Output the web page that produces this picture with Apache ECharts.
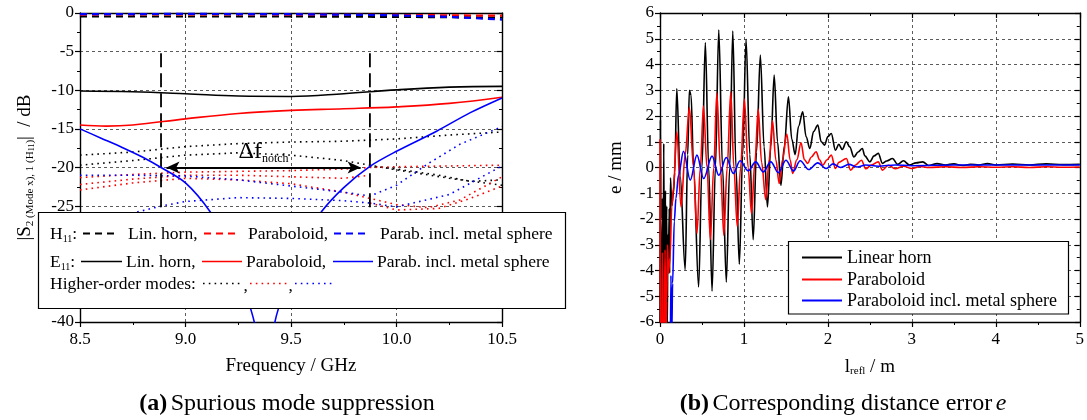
<!DOCTYPE html>
<html><head><meta charset="utf-8">
<script src="https://cdn.jsdelivr.net/npm/echarts@6/dist/echarts.min.js"></script>
<style>html,body{margin:0;padding:0;background:#fff}#c{width:1087px;height:420px}</style>
</head><body><div id="c"></div>
<script>
// ---------- Left panel (a): spurious mode suppression ----------
const leftXTicks = ['8.5','9.0','9.5','10.0','10.5'];
const leftYTicks = ['-40','-35','-30','-25','-20','-15','-10','-5','0'];

const h11Horn  = [[8.5,-0.45],[9.0,-0.45],[9.5,-0.45],[10.0,-0.5],[10.5,-0.6]];
const h11Parab = [[8.5,-0.2],[9.0,-0.18],[9.5,-0.2],[10.0,-0.25],[10.5,-0.35]];
const h11Sphere= [[8.5,-0.15],[9.0,-0.12],[9.5,-0.15],[10.0,-0.3],[10.25,-0.5],[10.5,-0.85]];

const e11Horn  = [[8.5,-10.1],[8.75,-10.2],[9.0,-10.45],[9.25,-10.75],[9.5,-10.8],[9.75,-10.45],[10.0,-9.95],[10.25,-9.6],[10.5,-9.5]];
const e11Parab = [[8.5,-14.5],[8.625,-14.65],[8.75,-14.5],[9.0,-13.7],[9.25,-13.0],[9.5,-12.6],[9.75,-12.4],[10.0,-12.15],[10.25,-11.7],[10.5,-10.9]];
const e11Sphere= [[8.5,-15.0],[8.6,-16.2],[8.7,-17.4],[8.8,-18.7],[8.884,-20.0],[9.0,-22.0],[9.116,-25.7],[9.2,-29.8],[9.25,-33.0],[9.31,-38.4],[9.33,-40.5],[9.375,-48],[9.42,-40.5],[9.44,-38.3],[9.5,-33.5],[9.55,-30.5],[9.6,-28.0],[9.645,-25.7],[9.75,-22.6],[9.874,-19.85],[10.0,-17.9],[10.19,-15.3],[10.35,-12.9],[10.5,-11.0]];

// higher-order modes (dotted)
const homHorn1 = [[8.5,-18.4],[8.75,-18.0],[9.0,-17.3],[9.25,-16.9],[9.5,-16.7],[9.75,-16.6],[10.0,-16.3],[10.25,-15.8],[10.5,-15.4]];
const homHorn2 = [[8.5,-19.7],[8.75,-19.1],[9.0,-18.4],[9.25,-18.1],[9.5,-18.4],[9.75,-19.1],[9.874,-19.7],[10.0,-20.3],[10.25,-21.4],[10.5,-22.3]];
const homHorn3 = [[9.874,-19.8],[10.0,-20.2],[10.2,-21.0],[10.35,-21.8],[10.5,-21.6]];
const homParab1 = [[8.5,-21.3],[8.75,-20.9],[9.0,-20.6],[9.25,-20.5],[9.5,-20.4],[9.75,-20.2],[9.874,-20.0],[10.0,-19.9],[10.25,-19.8],[10.5,-19.7]];
const homParab2 = [[8.5,-22.2],[8.75,-21.5],[9.0,-21.0],[9.25,-21.0],[9.5,-21.2],[9.75,-21.4],[9.874,-21.0]];
const homParab3 = [[8.5,-22.9],[8.75,-22.0],[9.0,-21.4],[9.25,-21.6],[9.5,-22.1],[9.75,-23.2],[9.874,-24.0],[10.0,-24.8],[10.15,-25.2],[10.3,-24.2],[10.5,-21.2]];
const homParab4 = [[9.874,-24.6],[10.0,-25.5],[10.2,-25.3],[10.35,-24.0],[10.5,-22.4]];
const homSphere1 = [[8.5,-21.0],[8.75,-21.0],[9.0,-21.1],[9.25,-21.6],[9.5,-22.4],[9.75,-23.2],[9.874,-23.7],[10.0,-22.3],[10.15,-19.5],[10.3,-17.0],[10.5,-14.7]];
const homSphere2 = [[8.5,-27.0],[8.75,-25.9],[8.884,-25.0],[9.0,-24.4],[9.25,-23.9],[9.5,-24.0],[9.75,-24.3],[9.874,-24.6],[10.0,-25.1],[10.25,-23.5],[10.5,-19.8]];

const notchLeft  = [[8.884,-5.2],[8.884,-30]];
const notchRight = [[9.874,-5.2],[9.874,-30]];
const notchArrow = [[8.91,-20],[9.83,-20]];

// ---------- Right panel (b): distance error ----------
const rightXTicks = ['0','1','2','3','4','5'];
const rightYTicks = ['-6','-5','-4','-3','-2','-1','0','1','2','3','4','5','6'];

const errHorn = [[0,-6.5],[0.005,1.85],[0.01,-2],[0.015,-6.5],[0.02,-3.6],[0.025,-6.5],[0.03,-1.2],[0.035,-6.5],[0.045,0.93],[0.05,-4],[0.055,-6.5],[0.065,-0.9],[0.07,-5],[0.08,-1.5],[0.085,-6.5],[0.095,-2.6],[0.1,-4.1],[0.11,-1.6],[0.115,-4.1],[0.125,-0.4],[0.14,-1.5],[0.16,-1.0],[0.175,-0.2],[0.2,3.07],[0.24,-0.3],[0.3,-3.97],[0.33,0.5],[0.35,3.0],[0.37,2.8],[0.4,0],[0.46,-4.64],[0.5,0],[0.54,4.85],[0.58,0],[0.62,-4.8],[0.66,0],[0.70,5.34],[0.745,0],[0.79,-4.45],[0.83,0],[0.867,5.3],[0.905,0],[0.945,-3.76],[0.985,0.5],[1.025,4.98],[1.07,0.5],[1.11,-2.8],[1.15,0.6],[1.195,4.37],[1.24,0.8],[1.28,-1.53],[1.32,0.8],[1.36,3.59],[1.4,1],[1.44,-0.69],[1.48,0.8],[1.53,2.75],[1.57,1.1],[1.61,0.5],[1.65,1.6],[1.7,2.16],[1.74,1.2],[1.785,0.74],[1.83,1.4],[1.88,1.65],[1.92,1.0],[1.96,0.87],[2.0,1.2],[2.04,1.32],[2.09,0.67],[2.13,0.9],[2.17,0.7],[2.22,1.0],[2.26,0.8],[2.31,0.41],[2.36,0.6],[2.41,0.74],[2.44,0.45],[2.5,0.22],[2.55,0.45],[2.6,0.55],[2.65,0.16],[2.7,0.25],[2.77,0.35],[2.83,0.12],[2.9,0.26],[2.97,0.1],[3.05,0.18],[3.13,0.22],[3.2,0.08],[3.3,0.15],[3.4,0.1],[3.5,0.14],[3.6,0.08],[3.7,0.12],[3.8,0.1],[3.9,0.15],[4.0,0.1],[4.2,0.13],[4.4,0.1],[4.6,0.14],[4.8,0.11],[5.0,0.12]];
const errParab = [[0,1.1],[0.004,-6.5],[0.02,-6.5],[0.03,-3.3],[0.035,-6.5],[0.05,-6.5],[0.06,-3.2],[0.07,-6.5],[0.08,-5.2],[0.09,-3.0],[0.1,-4.1],[0.12,-3.5],[0.14,-1.5],[0.16,-0.8],[0.2,1.39],[0.25,-1.53],[0.3,0.5],[0.35,2.33],[0.4,0],[0.44,-2.57],[0.48,0],[0.518,2.39],[0.56,0],[0.6,-2.8],[0.64,0],[0.677,2.9],[0.72,0],[0.76,-2.63],[0.8,0],[0.843,2.94],[0.88,0],[0.92,-2.28],[0.96,0],[1.005,2.66],[1.05,0],[1.09,-1.79],[1.13,0.2],[1.17,2.27],[1.21,0.2],[1.26,-1.25],[1.3,0.3],[1.34,1.81],[1.38,0.3],[1.42,-0.62],[1.46,0.3],[1.51,1.3],[1.55,0.3],[1.58,-0.23],[1.63,0.3],[1.68,0.96],[1.72,0.3],[1.76,0.16],[1.8,0.4],[1.86,0.61],[1.9,0.3],[1.94,0.09],[1.99,0.3],[2.04,0.48],[2.09,-0.04],[2.13,0.2],[2.22,0.35],[2.27,-0.1],[2.33,0.1],[2.4,0.28],[2.45,-0.05],[2.52,0.1],[2.6,0.22],[2.65,-0.1],[2.72,0.09],[2.8,-0.05],[2.9,0.05],[3.0,-0.04],[3.1,0.04],[3.2,0.0],[3.4,0.03],[3.6,0.0],[3.8,0.03],[4.0,0.01],[4.2,0.03],[4.4,0.0],[4.6,0.03],[4.8,0.01],[5.0,0.02]];
const errSphere = [[0.125,-6.5],[0.13,-4.2],[0.14,-6.5],[0.15,-4.5],[0.17,-2.1],[0.19,-1.2],[0.22,-0.3],[0.28,0.63],[0.36,-0.49],[0.44,0.48],[0.52,-0.43],[0.62,0.44],[0.70,-0.3],[0.79,0.39],[0.874,-0.23],[0.954,0.26],[1.05,-0.13],[1.14,0.22],[1.23,-0.17],[1.32,0.22],[1.41,-0.2],[1.5,0.28],[1.59,-0.13],[1.67,0.26],[1.77,-0.08],[1.88,0.18],[1.98,-0.04],[2.06,0.14],[2.15,0.0],[2.25,0.12],[2.35,0.02],[2.45,0.1],[2.6,0.05],[2.8,0.1],[3.0,0.07],[3.5,0.1],[4.0,0.1],[4.5,0.1],[5.0,0.1]];

// ---------- styling helpers ----------
const serif = 'Liberation Serif';
const BLACK = '#000000', RED = '#ff0000', BLUE = '#0000ff';
const DOT = [1.6, 4.2], DASH = [7, 5];
const lblStyle = {color: BLACK, fontFamily: serif, fontSize: 17};
const gridLine = {show: true, lineStyle: {color: '#333', type: [3, 3], width: 0.8}};

function mainAxis(o) {
  return Object.assign({
    type: 'value',
    axisLine: {show: true, onZero: false, lineStyle: {color: BLACK, width: 1.4}},
    axisTick: {show: true, length: 5, lineStyle: {color: BLACK, width: 1.2}},
    minorTick: {show: true, splitNumber: 2, length: 3, lineStyle: {color: BLACK, width: 1}},
    axisLabel: Object.assign({margin: 7}, lblStyle),
    splitLine: gridLine,
    nameTextStyle: {color: BLACK, fontFamily: serif, fontSize: 19}
  }, o);
}
function frameAxis(o) {
  return Object.assign({
    type: 'value',
    axisLine: {show: true, onZero: false, lineStyle: {color: BLACK, width: 1.4}},
    axisTick: {show: true, inside: true, length: 5, lineStyle: {color: BLACK, width: 1.2}},
    minorTick: {show: true, splitNumber: 2, length: 3, lineStyle: {color: BLACK, width: 1}},
    axisLabel: {show: false},
    splitLine: {show: false}
  }, o);
}
function ser(name, data, color, type, width, xi, yi, extra) {
  return Object.assign({
    name, type: 'line', data, xAxisIndex: xi, yAxisIndex: yi,
    showSymbol: false, symbol: 'none', animation: false,
    lineStyle: {color, type, width, cap: 'butt'},
    itemStyle: {color}, clip: true
  }, extra || {});
}

const subRich = {
  b: {fontFamily: serif, fontSize: 19, color: BLACK},
  s: {fontFamily: serif, fontSize: 11, color: BLACK, padding: [9, 0, 0, 0]},
  ss: {fontFamily: serif, fontSize: 8, color: BLACK, padding: [13, 0, 0, 0]}
};

const option = {
  backgroundColor: '#fff',
  animation: false,
  grid: [
    {left: 80, right: 585, top: 13, bottom: 98},
    {left: 660, right: 6, top: 13, bottom: 98}
  ],
  xAxis: [
    mainAxis({gridIndex: 0, min: 8.5, max: 10.5, interval: 0.5, position: 'bottom',
      axisLabel: Object.assign({margin: 9, formatter: (v, i) => leftXTicks[i]}, lblStyle),
      name: 'Frequency / GHz', nameLocation: 'middle', nameGap: 35}),
    frameAxis({gridIndex: 0, min: 8.5, max: 10.5, interval: 0.5, position: 'top'}),
    mainAxis({gridIndex: 1, min: 0, max: 5, interval: 1, position: 'bottom',
      axisLabel: Object.assign({margin: 9, formatter: (v, i) => rightXTicks[i]}, lblStyle),
      name: '{b|l}{s|refl}{b| / m}', nameLocation: 'middle', nameGap: 35,
      nameTextStyle: {rich: subRich}}),
    frameAxis({gridIndex: 1, min: 0, max: 5, interval: 1, position: 'top'})
  ],
  yAxis: [
    mainAxis({gridIndex: 0, min: -40, max: 0, interval: 5, position: 'left',
      axisLabel: Object.assign({margin: 6, formatter: (v, i) => leftYTicks[i]}, lblStyle),
      name: '{b||S}{s|2 (Mode x), 1 (H}{ss|11}{s|)}{b||  / dB}', nameLocation: 'middle', nameGap: 44,
      nameTextStyle: {rich: subRich}}),
    frameAxis({gridIndex: 0, min: -40, max: 0, interval: 5, position: 'right'}),
    mainAxis({gridIndex: 1, min: -6, max: 6, interval: 1, position: 'left',
      axisLabel: Object.assign({margin: 6, formatter: (v, i) => rightYTicks[i]}, lblStyle),
      name: 'e / mm', nameLocation: 'middle', nameGap: 34}),
    frameAxis({gridIndex: 1, min: -6, max: 6, interval: 1, position: 'right'})
  ],
  series: [
    ser('homHorn1', homHorn1, BLACK, DOT, 1.6, 0, 0),
    ser('homHorn2', homHorn2, BLACK, DOT, 1.6, 0, 0),
    ser('homHorn3', homHorn3, BLACK, DOT, 1.6, 0, 0),
    ser('homParab1', homParab1, RED, DOT, 1.6, 0, 0),
    ser('homParab2', homParab2, RED, DOT, 1.6, 0, 0),
    ser('homParab3', homParab3, RED, DOT, 1.6, 0, 0),
    ser('homParab4', homParab4, RED, DOT, 1.6, 0, 0),
    ser('homSphere1', homSphere1, BLUE, DOT, 1.6, 0, 0),
    ser('homSphere2', homSphere2, BLUE, DOT, 1.6, 0, 0),
    ser('notchL', notchLeft, BLACK, [14, 6], 1.8, 0, 0),
    ser('notchR', notchRight, BLACK, [14, 6], 1.8, 0, 0, {
      markLine: {
        silent: true, animation: false, symbol: ['arrow', 'arrow'], symbolSize: [9, 13],
        lineStyle: {color: BLACK, width: 2.2, type: 'solid'},
        label: {show: true, position: 'middle', distance: 3,
          formatter: '{a|Δf}{n|notch}',
          rich: {a: {fontFamily: serif, fontSize: 24, color: BLACK},
                 n: {fontFamily: serif, fontSize: 12, color: BLACK, padding: [14, 0, 0, 0]}}},
        data: [[{coord: notchArrow[0]}, {coord: notchArrow[1]}]]
      }
    }),
    ser('e11Horn', e11Horn, BLACK, 'solid', 1.6, 0, 0, {smooth: 0.4}),
    ser('e11Parab', e11Parab, RED, 'solid', 1.6, 0, 0, {smooth: 0.4}),
    ser('e11Sphere', e11Sphere, BLUE, 'solid', 1.6, 0, 0, {smooth: 0.3}),
    ser('h11Horn', h11Horn, BLACK, DASH, 2.2, 0, 0),
    ser('h11Parab', h11Parab, RED, DASH, 2.2, 0, 0),
    ser('h11Sphere', h11Sphere, BLUE, DASH, 2.2, 0, 0),
    ser('Linear horn', errHorn, BLACK, 'solid', 1.6, 2, 2, {smooth: 0.35, smoothMonotone: 'x'}),
    ser('Paraboloid', errParab, RED, 'solid', 1.6, 2, 2, {smooth: 0.35, smoothMonotone: 'x'}),
    ser('Paraboloid incl. metal sphere', errSphere, BLUE, 'solid', 1.6, 2, 2, {smooth: 0.35, smoothMonotone: 'x'})
  ]
};

// ---------- legends and captions (graphic) ----------
const FONT = '17.5px "Liberation Serif"';
const T = (x, y, text, extra) => ({type: 'text', x, y, z: 101,
  style: Object.assign({text, fill: BLACK, font: FONT, textVerticalAlign: 'middle'}, extra || {})});
const L = (x1, x2, y, color, dash, w) => ({type: 'line', z: 101,
  shape: {x1, y1: y, x2, y2: y}, style: {stroke: color, lineWidth: w || 2, lineDash: dash === 'solid' ? null : dash}});
const richSub = {m: {fontFamily: serif, fontSize: 17.5, fill: BLACK}, s: {fontFamily: serif, fontSize: 10, fill: BLACK, padding: [10, 0, 0, 0]}};

const graphics = [
  {type: 'rect', z: 100, shape: {x: 38.5, y: 212.5, width: 527, height: 96}, style: {fill: '#fff', stroke: BLACK, lineWidth: 1.2}},
  T(50, 234, '{m|H}{s|11}{m|:}', {rich: richSub}),
  L(83, 118, 233.5, BLACK, DASH, 2), T(128, 234, 'Lin. horn,'),
  L(204, 238, 233.5, RED, DASH, 2), T(248, 234, 'Paraboloid,'),
  L(334, 368, 233.5, BLUE, DASH, 2), T(380, 234, 'Parab. incl. metal sphere'),
  T(50, 262, '{m|E}{s|11}{m|:}', {rich: richSub}),
  L(81, 122, 261.5, BLACK, 'solid', 1.6), T(126, 262, 'Lin. horn,'),
  L(202, 242, 261.5, RED, 'solid', 1.6), T(246, 262, 'Paraboloid,'),
  L(333, 373, 261.5, BLUE, 'solid', 1.6), T(377, 262, 'Parab. incl. metal sphere'),
  T(50, 284, 'Higher-order modes:'),
  L(203, 243, 283.5, BLACK, DOT, 1.5), T(243.5, 286, ','),
  L(250, 288, 283.5, RED, DOT, 1.5), T(288.5, 286, ','),
  L(295, 335, 283.5, BLUE, DOT, 1.5),
  {type: 'rect', z: 100, shape: {x: 788.5, y: 241.5, width: 280, height: 72.5}, style: {fill: '#fff', stroke: BLACK, lineWidth: 1.2}},
  L(802, 842, 257.5, BLACK, 'solid', 2), T(847, 258, 'Linear horn', {font: '18px "Liberation Serif"'}),
  L(802, 842, 279.5, RED, 'solid', 2), T(847, 280, 'Paraboloid', {font: '18px "Liberation Serif"'}),
  L(802, 842, 300.5, BLUE, 'solid', 2), T(847, 301, 'Paraboloid incl. metal sphere', {font: '18px "Liberation Serif"'}),
  {type: 'text', x: 287, y: 404, z: 101, style: {text: '{b|(a)} {r|Spurious mode suppression}', textAlign: 'center', textVerticalAlign: 'middle',
    rich: {b: {fontFamily: serif, fontSize: 24, fontWeight: 'bold', fill: BLACK}, r: {fontFamily: serif, fontSize: 24, fill: BLACK}}}},
  {type: 'text', x: 843, y: 404, z: 101, style: {text: '{b|(b)} {r|Corresponding distance error} {i|e}', textAlign: 'center', textVerticalAlign: 'middle',
    rich: {b: {fontFamily: serif, fontSize: 24, fontWeight: 'bold', fill: BLACK}, r: {fontFamily: serif, fontSize: 24, fill: BLACK}, i: {fontFamily: serif, fontSize: 24, fontStyle: 'italic', fill: BLACK}}}}
];
option.graphic = graphics;

const chart = echarts.init(document.getElementById('c'));
chart.setOption(option);
</script>
</body></html>
